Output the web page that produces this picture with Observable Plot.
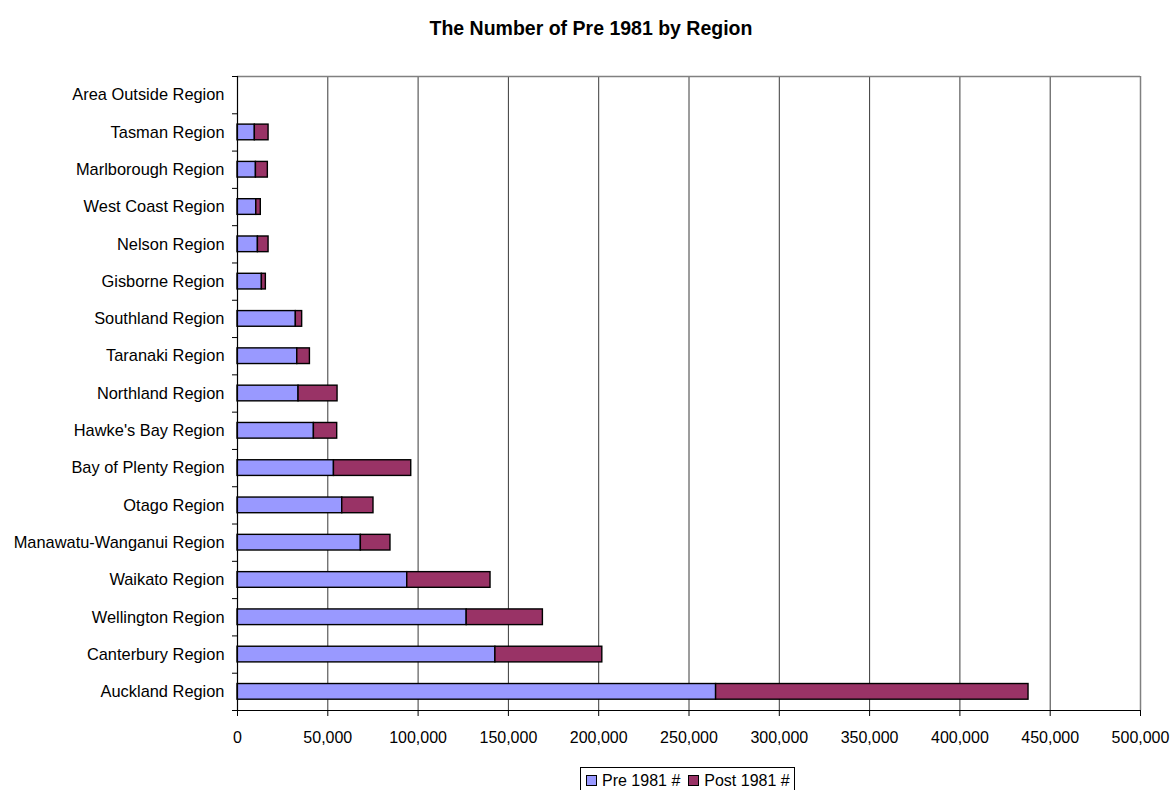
<!DOCTYPE html>
<html>
<head>
<meta charset="utf-8">
<script src="https://cdn.jsdelivr.net/npm/d3@7"></script>
<script src="https://cdn.jsdelivr.net/npm/@observablehq/plot@0.6"></script>
<style>
  html, body { margin: 0; padding: 0; background: #fff; }
  #wrap { position: relative; width: 1171px; height: 790px; overflow: hidden; font-family: "Liberation Sans", Arial, sans-serif; }
  #title { position: absolute; left: 0; width: 1182px; top: 18px; text-align: center; font-weight: bold; font-size: 19.5px; line-height: 20px; color: #000; }
  #chart { position: absolute; left: 0; top: 0; }
  #legend { position: absolute; left: 580px; top: 767px; border: 1px solid #000; padding: 3px 4px 4px 5px; font-size: 16px; line-height: 20px; white-space: nowrap; background: #fff; }
  #legend .sw { display: inline-block; width: 9px; height: 9px; border: 1px solid #000; margin-right: 5px; vertical-align: 0px; }
  #legend .item { margin-right: 8px; }
  #legend .item:last-child { margin-right: 0; }
</style>
</head>
<body>
<div id="wrap">
  <div id="title"></div>
  <div id="chart"></div>
  <div id="legend"></div>
</div>
<script>
// Regions listed from the bottom row of the chart to the top row
const regions = [
  "Auckland Region", "Canterbury Region", "Wellington Region", "Waikato Region",
  "Manawatu-Wanganui Region", "Otago Region", "Bay of Plenty Region", "Hawke's Bay Region",
  "Northland Region", "Taranaki Region", "Southland Region", "Gisborne Region",
  "Nelson Region", "West Coast Region", "Marlborough Region", "Tasman Region",
  "Area Outside Region"
];
const pre1981 = [265000, 142800, 126900, 94000, 68300, 58000, 53400, 42300, 33800, 33100, 32300, 13500, 11300, 10400, 10200, 9600, 0];
const post1981 = [173000, 59200, 42200, 46100, 16400, 17300, 42800, 12900, 21600, 7000, 3500, 2200, 5900, 2500, 6600, 7600, 0];

const seriesNames = ["Pre 1981 #", "Post 1981 #"];
const seriesColors = ["#9999FF", "#993366"];
const xTicks = d3.range(0, 500001, 50000);
const titleText = "The Number of Pre 1981 by Region";

// One record per segment, stacked left to right within each region row
const segments = [];
regions.forEach((region, i) => {
  const vals = [pre1981[i], post1981[i]];
  let start = 0;
  vals.forEach((v, s) => {
    segments.push({region, row: i, series: seriesNames[s], x1: start, x2: start + v});
    start += v;
  });
});

const halfBar = 0.21;

const chart = Plot.plot({
  width: 1171,
  height: 790,
  marginLeft: 237,
  marginRight: 31,
  marginTop: 76,
  marginBottom: 80,
  style: {fontFamily: "'Liberation Sans', Arial, sans-serif", fontSize: "16px", color: "#000", background: "transparent"},
  x: {domain: [0, 500000]},
  y: {domain: [0, regions.length]},
  color: {domain: seriesNames, range: seriesColors},
  marks: [
    // vertical gridlines
    Plot.ruleX(xTicks.slice(1, -1), {stroke: "#3a3a3a", strokeWidth: 1}),
    // top and right edges of the plot area
    Plot.ruleX([500000], {stroke: "#808080", strokeWidth: 1.5}),
    Plot.ruleY([regions.length], {stroke: "#808080", strokeWidth: 1.5}),
    // stacked bars
    Plot.rectX(segments.filter(d => d.x2 > d.x1), {
      x1: "x1", x2: "x2",
      y1: d => d.row + 0.5 - halfBar,
      y2: d => d.row + 0.5 + halfBar,
      fill: "series",
      stroke: "#000",
      strokeWidth: 1.4
    }),
    // axis lines
    Plot.ruleX([0], {stroke: "#000", strokeWidth: 1.2}),
    Plot.ruleY([0], {stroke: "#000", strokeWidth: 1.2}),
    // category labels
    Plot.axisY(regions.map((_, i) => i + 0.5), {
      tickSize: 0, tickPadding: 13,
      tickFormat: v => regions[Math.floor(v)],
      label: null, fontSize: 16.4
    }),
    // tick marks between categories
    Plot.axisY(d3.range(regions.length + 1), {
      tickSize: 5, tickFormat: () => "", label: null
    }),
    Plot.axisX(xTicks, {
      tickSize: 6, tickPadding: 15,
      tickFormat: d3.format(","),
      label: null, fontSize: 16
    })
  ]
});

document.getElementById("chart").appendChild(chart);
document.getElementById("title").textContent = titleText;

const legend = document.getElementById("legend");
seriesNames.forEach((name, i) => {
  const item = document.createElement("span");
  item.className = "item";
  const sw = document.createElement("span");
  sw.className = "sw";
  sw.style.background = seriesColors[i];
  item.appendChild(sw);
  item.appendChild(document.createTextNode(name));
  legend.appendChild(item);
});
</script>
</body>
</html>
